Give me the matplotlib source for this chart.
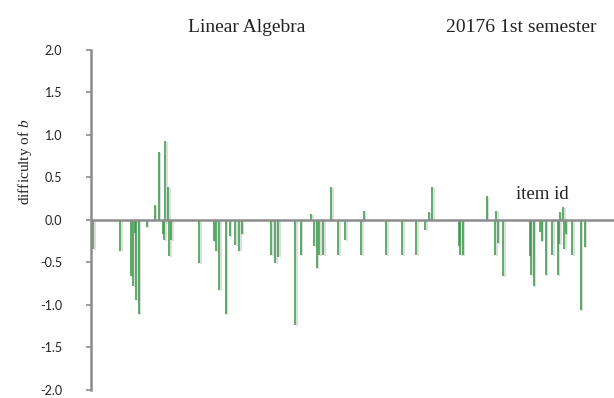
import matplotlib
matplotlib.use("Agg")
import matplotlib.pyplot as plt
import matplotlib.patheffects as pe

# item ids and their difficulty parameter b
item_ids = [2, 22, 30, 32, 33, 34, 36, 42, 48, 51, 54, 55, 56, 58, 59, 60,
            81, 92, 94, 96, 101, 104, 108, 111, 113, 135, 138, 140, 153, 157,
            165, 167, 169, 171, 174, 180, 185, 190, 202, 204, 221, 233, 243,
            250, 253, 255, 275, 276, 278, 296, 302, 303, 304, 308, 328, 329,
            331, 336, 337, 340, 345, 349, 350, 351, 353, 354, 355, 360, 366, 369]
difficulty = [-0.34, -0.36, -0.66, -0.78, -0.15, -0.94, -1.11, -0.08, 0.18, 0.80,
              -0.17, -0.24, 0.93, 0.39, -0.42, -0.24,
              -0.51, -0.25, -0.37, -0.82, -1.11, -0.19, -0.30, -0.36, -0.17,
              -0.41, -0.51, -0.43, -1.24, -0.41,
              0.07, -0.31, -0.57, -0.41, -0.41, 0.39, -0.41, -0.24, -0.41, 0.11,
              -0.41, -0.41, -0.41,
              -0.12, 0.09, 0.39, -0.31, -0.41, -0.41, 0.28, -0.41, 0.11, -0.27,
              -0.66, -0.42, -0.65,
              -0.78, -0.14, -0.25, -0.65, -0.41, -0.65, -0.28, 0.09, 0.15, -0.34,
              -0.17, -0.41, -1.06, -0.32]

yticks = [-2.0, -1.5, -1.0, -0.5, 0.0, 0.5, 1.0, 1.5, 2.0]

plt.rcParams['mathtext.fontset'] = 'custom'
plt.rcParams['mathtext.it'] = 'Liberation Serif:italic'
plt.rcParams['mathtext.rm'] = 'Liberation Serif'

fig = plt.figure(figsize=(6.14, 3.98), dpi=100)
ax = fig.add_axes([0.1474, 0.0201, 0.8526, 0.8543])

# thin stems from zero, with a soft grey drop shadow
ax.vlines(item_ids, 0, difficulty, colors='#3a9a4a', lw=1.15,
          path_effects=[pe.SimpleLineShadow(offset=(1.2, -0.6),
                                            shadow_color='#8a8a8a', alpha=0.35),
                        pe.Normal()])
ax.axhline(0, color='#8c8c8c', lw=1.8, zorder=3)

ax.set_xlim(0, 391)
ax.set_ylim(-2.0, 2.0)
ax.set_xticks([])
ax.set_yticks(yticks)
ax.set_yticklabels([f"{v:.1f}" for v in yticks], fontfamily='Lato',
                   fontsize=9, color='#222222')
ax.tick_params(axis='y', length=3.5, width=1.2, color='#8c8c8c', pad=17)

for side in ['top', 'right', 'bottom']:
    ax.spines[side].set_visible(False)
ax.spines['left'].set_color('#8c8c8c')
ax.spines['left'].set_linewidth(1.8)

serif = 'Liberation Serif'
fig.text(25 / 614, 1 - 162 / 398, r"difficulty of $\mathit{b}$",
         rotation=90, ha='center', va='center', fontsize=11,
         fontfamily=serif, color='#222222')
fig.text(247 / 614, 1 - 27 / 398, "Linear Algebra", ha='center',
         va='center', fontsize=14, fontfamily=serif, color='#222222')
fig.text(446 / 614, 1 - 27 / 398, "20176 1st semester", ha='left',
         va='center', fontsize=14, fontfamily=serif, color='#222222')
fig.text(542 / 614, 1 - 195 / 398, "item id", ha='center', va='center',
         fontsize=13.5, fontfamily=serif, color='#222222')

fig.savefig("out.png", dpi=100)
